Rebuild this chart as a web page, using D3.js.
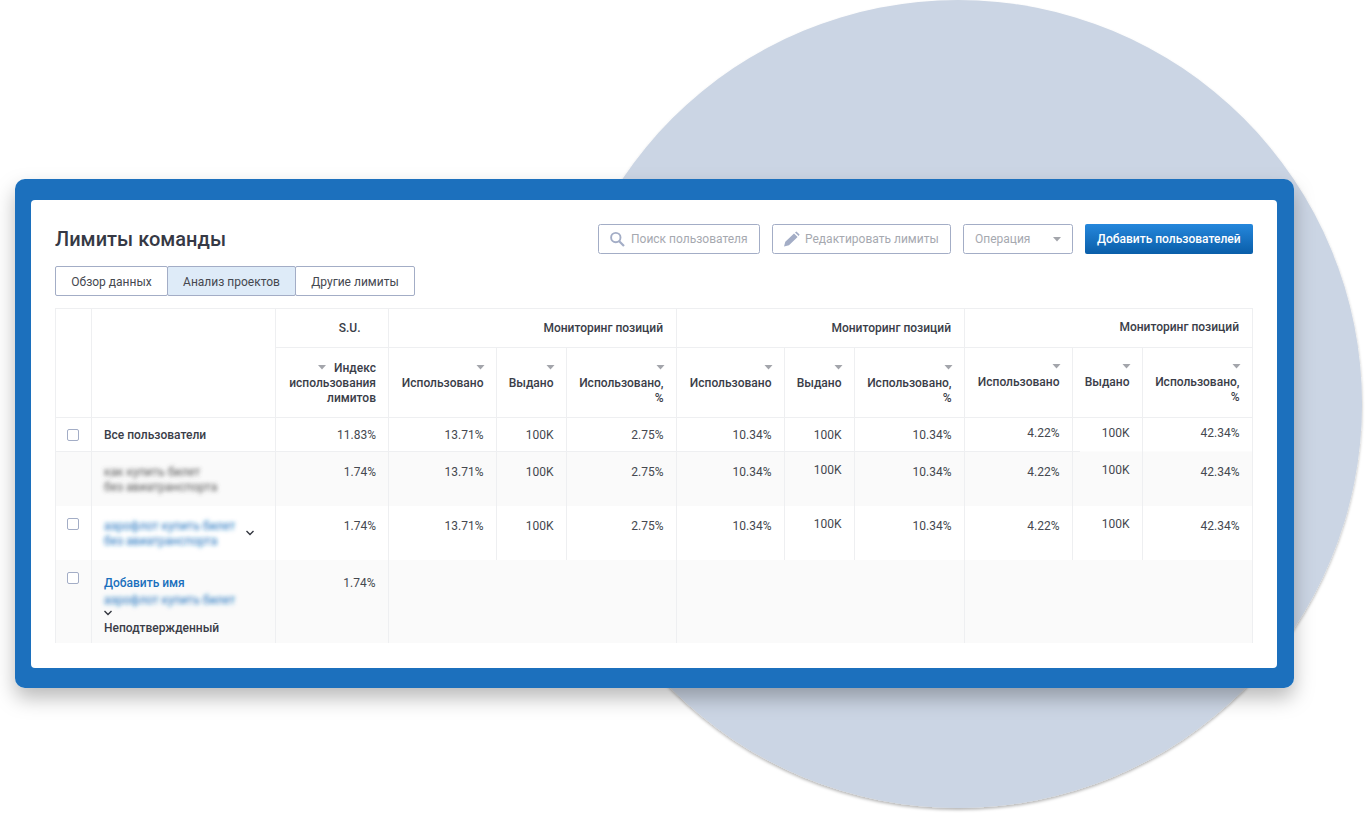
<!DOCTYPE html>
<html>
<head>
<meta charset="utf-8">
<script src="https://cdn.jsdelivr.net/npm/d3@7"></script>
<style>
html, body { margin: 0; padding: 0; background: #fff; }
svg { display: block; font-family: Roboto, sans-serif; }
</style>
</head>
<body>
<svg width="1365" height="816"></svg>
<script>
var title = 'Лимиты команды';
var tabs = ['Обзор данных', 'Анализ проектов', 'Другие лимиты'];
var blocks = ['Мониторинг позиций', 'Мониторинг позиций', 'Мониторинг позиций'];
var subColumns = [['Использовано'], ['Выдано'], ['Использовано,', '%']];
var indexHeader = ['Индекс', 'использования', 'лимитов'];
var suValues = ['11.83%', '1.74%', '1.74%', '1.74%'];
var block1Used = ['13.71%', '13.71%', '13.71%'];
var block2Used = ['10.34%', '10.34%', '10.34%'];
var block3Used = ['4.22%', '4.22%', '4.22%'];
var issued = ['100K', '100K', '100K'];
var block1Pct = ['2.75%', '2.75%', '2.75%'];
var block2Pct = ['10.34%', '10.34%', '10.34%'];
var block3Pct = ['42.34%', '42.34%', '42.34%'];

var ink = '#3a3d48', line = '#eeeff1', frame = '#a3adc6', blue = '#1b70bd';
var svg = d3.select('svg');

var defs = svg.append('defs');
function shadow(id, dy, blur, opacity) {
  defs.append('filter').attr('id', id)
    .attr('x', '-10%').attr('y', '-10%').attr('width', '120%').attr('height', '125%')
    .append('feDropShadow')
    .attr('dx', 0).attr('dy', dy).attr('stdDeviation', blur)
    .attr('flood-color', '#000').attr('flood-opacity', opacity);
}
shadow('panelShadow', 10, 10, 0.27);
shadow('circleShadow', 2, 1.5, 0.28);
defs.append('filter').attr('id', 'blur').attr('x', '-10%').attr('y', '-50%').attr('width', '120%').attr('height', '200%')
  .append('feGaussianBlur').attr('stdDeviation', 1.9);
var btn = defs.append('linearGradient').attr('id', 'btn').attr('x1', 0).attr('y1', 0).attr('x2', 0).attr('y2', 1);
btn.append('stop').attr('offset', '0%').attr('stop-color', '#2587dc');
btn.append('stop').attr('offset', '100%').attr('stop-color', '#0a5ea9');

// background
svg.append('circle').attr('cx', 958).attr('cy', 404).attr('r', 404)
  .attr('fill', '#cbd5e4').attr('filter', 'url(#circleShadow)');
svg.append('rect').attr('x', 15).attr('y', 179).attr('width', 1279).attr('height', 509).attr('rx', 10)
  .attr('fill', blue).attr('filter', 'url(#panelShadow)');
svg.append('rect').attr('x', 31).attr('y', 200).attr('width', 1246).attr('height', 468).attr('rx', 4)
  .attr('fill', '#fff');

function label(g, txt, x, y, o) {
  o = o || {};
  return g.append('text').text(txt).attr('x', x).attr('y', y)
    .attr('text-anchor', o.anchor || 'start')
    .attr('font-size', o.size || 12)
    .attr('font-weight', o.weight || 400)
    .attr('letter-spacing', o.spacing || 0)
    .attr('fill', o.fill || ink);
}

var bar = svg.append('g');
label(bar, title, 55, 246, { size: 20, weight: 500, spacing: 0.02, fill: '#363945' });

// toolbar
function box(x, w, fill) {
  bar.append('rect').attr('x', x).attr('y', 224.5).attr('width', w).attr('height', 29).attr('rx', 2)
    .attr('fill', fill || '#fff').attr('stroke', frame);
}
box(598.5, 161);
bar.append('circle').attr('cx', 615.8).attr('cy', 237.6).attr('r', 4.7).attr('fill', 'none').attr('stroke', frame).attr('stroke-width', 1.9);
bar.append('path').attr('d', 'M619,241L624,246').attr('stroke', frame).attr('stroke-width', 2.2);
label(bar, 'Поиск пользователя', 631, 243, { fill: '#a6a9b0' });
box(772.5, 178);
bar.append('path').attr('d', 'M784,246.5L785.3,241.8L794,233.4L797.6,237L789,245.3ZM795,232.4L796.4,231.6L799.6,234.6L798.7,236Z').attr('fill', frame);
label(bar, 'Редактировать лимиты', 805, 243, { fill: '#a6a9b0' });
box(963.5, 109);
label(bar, 'Операция', 975, 243, { fill: '#a6a9b0' });
bar.append('path').attr('d', 'M1053,237H1061L1057,241.5Z').attr('fill', '#a3a5ab');
bar.append('rect').attr('x', 1085).attr('y', 224).attr('width', 168).attr('height', 30).attr('rx', 2).attr('fill', 'url(#btn)');
label(bar, 'Добавить пользователей', 1097, 243, { fill: '#fff', weight: 500 });

// tabs
var tabEdges = d3.scaleOrdinal(tabs, [55.5, 167.5, 295.5]);
var tabEnds = d3.scaleOrdinal(tabs, [167.5, 295.5, 414.5]);
var tabG = bar.selectAll('g.tab').data(tabs).enter().append('g').classed('tab', true);
tabG.append('rect')
  .attr('x', function(d) { return tabEdges(d); })
  .attr('y', 266.5)
  .attr('width', function(d) { return tabEnds(d) - tabEdges(d); })
  .attr('height', 29).attr('rx', 1.5)
  .attr('fill', function(d, i) { return i == 1 ? '#deebf8' : '#fff'; })
  .attr('stroke', frame);
tabG.append('text').text(function(d) { return d; })
  .attr('x', function(d) { return (tabEdges(d) + tabEnds(d)) / 2; })
  .attr('y', 286).attr('text-anchor', 'middle')
  .attr('font-size', 12).attr('fill', '#45484f');

// table grid
var columnKeys = ['check', 'name', 'su', 'a1', 'a2', 'a3', 'b1', 'b2', 'b3', 'c1', 'c2', 'c3'];
var x = d3.scaleOrdinal(columnKeys, [55.5, 91.5, 275.5, 388.5, 496.5, 566.5, 676.5, 784.5, 854.5, 964.5, 1072.5, 1142.5]);
var tableRight = 1252.5;
var rowKeys = ['head1', 'head2', 'all', 'r2', 'r3', 'r4'];
var y = d3.scaleOrdinal(rowKeys, [308.5, 347.5, 417.5, 451.5, 506, 560, 643]);
var rowBottom = { head1: 347.5, head2: 417.5, all: 451.5, r2: 506, r3: 560, r4: 643 };

var grid = svg.append('g');
grid.selectAll('rect.band').data(['r2', 'r4']).enter().append('rect').classed('band', true)
  .attr('x', 55).attr('width', tableRight - 55)
  .attr('y', function(d) { return y(d); })
  .attr('height', function(d) { return rowBottom[d] - y(d); })
  .attr('fill', '#fafafa');

function stroke(x1, y1, x2, y2) {
  grid.append('line').attr('x1', x1).attr('y1', y1).attr('x2', x2).attr('y2', y2).attr('stroke', line);
}
stroke(55, 308.5, tableRight, 308.5);
stroke(275, 347.5, tableRight, 347.5);
stroke(55, 417.5, tableRight, 417.5);
stroke(55, 451.5, 1080, 451.5);
// full height columns
['check', 'name', 'su', 'a1', 'b1', 'c1'].forEach(function(k) { stroke(x(k), 308, x(k), 643); });
stroke(tableRight, 308, tableRight, 643);
// sub columns stop before the last row
['a2', 'a3', 'b2', 'b3', 'c2', 'c3'].forEach(function(k) { stroke(x(k), 347, x(k), 560); });

// header
var head = svg.append('g');
var rightEdge = function(k) {
  var i = columnKeys.indexOf(k);
  return i == columnKeys.length - 1 ? tableRight : x(columnKeys[i + 1]);
};
label(head, 'S.U.', 360.5, 332, { weight: 500, anchor: 'end' });
blocks.forEach(function(b, i) {
  var k = ['a3', 'b3', 'c3'][i];
  label(head, b, rightEdge(k) - 13.5, i == 2 ? 331 : 332, { weight: 500, anchor: 'end' });
});
function triangle(cx, cy) {
  head.append('path').attr('d', 'M' + (cx - 4) + ',' + cy + 'h8l-4,4.5z').attr('fill', '#a3a5ab');
}
indexHeader.forEach(function(t, i) {
  label(head, t, 376, 372 + i * 15, { weight: 500, anchor: 'end' });
});
triangle(322, 365);
[['a1', 'a2', 'a3'], ['b1', 'b2', 'b3'], ['c1', 'c2', 'c3']].forEach(function(keys, b) {
  var shift = b == 2 ? -1 : 0;
  keys.forEach(function(k, i) {
    subColumns[i].forEach(function(t, j) {
      label(head, t, rightEdge(k) - 13, 387 + shift + j * 15, { weight: 500, anchor: 'end' });
    });
    triangle(rightEdge(k) - 16, 365 + shift);
  });
});

// body
var body = svg.append('g');
var textY = d3.scaleOrdinal(['all', 'r2', 'r3', 'r4'], [439, 476, 530, 587]);
var dataRows = ['all', 'r2', 'r3'];
suValues.forEach(function(v, i) {
  label(body, v, i == 3 ? 375.5 : 376, textY(['all', 'r2', 'r3', 'r4'][i]), { anchor: 'end', fill: '#45484f' });
});
var dataColumns = [
  { key: 'a1', values: block1Used, lift: [0, 0, 0] },
  { key: 'a2', values: issued, lift: [0, 0, 0] },
  { key: 'a3', values: block1Pct, lift: [0, 0, 0] },
  { key: 'b1', values: block2Used, lift: [0.5, 0, 0] },
  { key: 'b2', values: issued, lift: [0.5, 2, 2] },
  { key: 'b3', values: block2Pct, lift: [0.5, 0, 0] },
  { key: 'c1', values: block3Used, lift: [2, 0, 0] },
  { key: 'c2', values: issued, lift: [2, 2, 2] },
  { key: 'c3', values: block3Pct, lift: [2, 0, 0] }
];
dataColumns.forEach(function(col) {
  body.selectAll(null).data(col.values).enter().append('text')
    .text(function(d) { return d; })
    .attr('x', rightEdge(col.key) - 13)
    .attr('y', function(d, i) { return textY(dataRows[i]) - col.lift[i]; })
    .attr('text-anchor', 'end').attr('font-size', 12).attr('fill', '#45484f');
});

// name cells
label(body, 'Все пользователи', 104, 439, { weight: 500 });
label(body, 'как купить билет', 104, 476, { fill: '#555' }).attr('filter', 'url(#blur)');
label(body, 'без авиатранспорта', 104, 491, { fill: '#555' }).attr('filter', 'url(#blur)');
label(body, 'аэрофлот купить билет', 104, 530, { fill: blue }).attr('filter', 'url(#blur)');
label(body, 'без авиатранспорта', 104, 545, { fill: blue }).attr('filter', 'url(#blur)');
label(body, 'Добавить имя', 104, 587, { weight: 500, fill: blue });
label(body, 'аэрофлот купить билет', 104, 604, { fill: blue }).attr('filter', 'url(#blur)');
label(body, 'Неподтвержденный', 104, 632, { weight: 500 });

function chevron(cx, cy) {
  body.append('path').attr('d', 'M' + (cx - 3.5) + ',' + (cy - 2) + 'l3.5,3.5l3.5,-3.5')
    .attr('fill', 'none').attr('stroke', '#33363f').attr('stroke-width', 1.4);
}
chevron(250, 533);
chevron(108, 613);

// check boxes
body.selectAll('rect.check').data([429, 518, 572]).enter().append('rect').classed('check', true)
  .attr('x', 67.5).attr('y', function(d) { return d + 0.5; })
  .attr('width', 11).attr('height', 11).attr('rx', 1.5)
  .attr('fill', '#fff').attr('stroke', '#a3adc6');
</script>
</body>
</html>
